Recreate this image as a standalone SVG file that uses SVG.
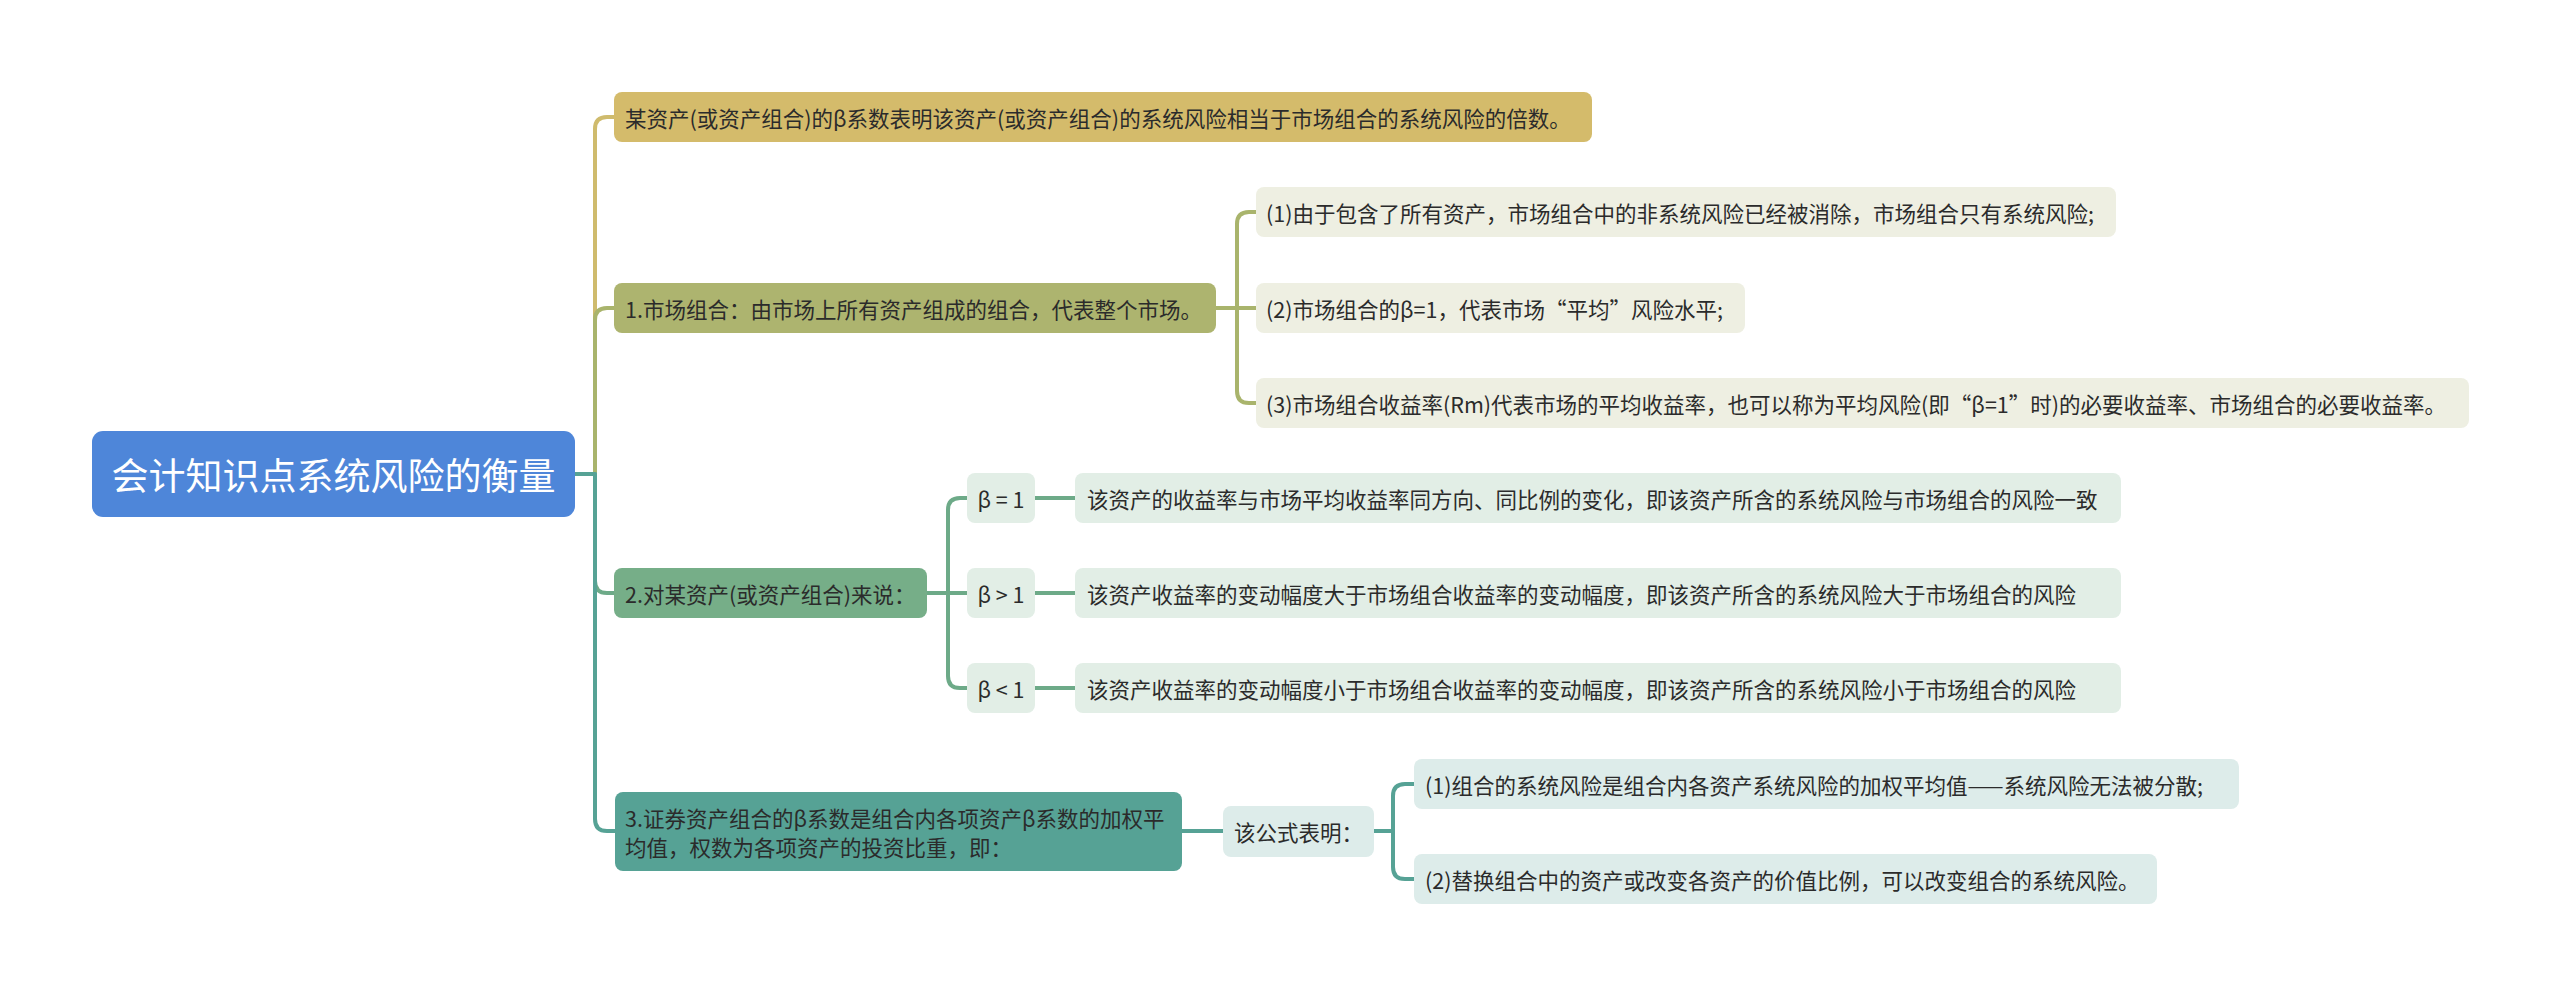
<svg xmlns="http://www.w3.org/2000/svg" width="2560" height="996" viewBox="0 0 2560 996">
<style>
text{font-family:"Noto Sans CJK SC","Liberation Sans",sans-serif;font-size:21.5px;fill:#2b2b2b;dominant-baseline:central}
.c{fill:none;stroke-width:4;stroke-linecap:round;stroke-linejoin:round}
.gold{stroke:#cfbb6d}.olive{stroke:#a9b46c}.green{stroke:#6daa88}.teal{stroke:#56a295}
</style>
<rect width="2560" height="996" fill="#ffffff"/>
<g id="connectors">
<path class="c gold" d="M575,474 H595 V129 Q595,117 607,117 H614"/>
<path class="c olive" d="M575,474 H595 V320 Q595,308 607,308 H614"/>
<path class="c green" d="M575,474 H595 V581 Q595,593 607,593 H614"/>
<path class="c teal" d="M575,474 H595 V819 Q595,831 607,831 H615"/>
<path class="c olive" d="M1216,308 H1237 V224 Q1237,212 1249,212 H1256 M1237,308 H1256 M1237,308 V391 Q1237,403 1249,403 H1256"/>
<path class="c green" d="M927,593 H948 V510 Q948,498 960,498 H967 M948,593 H967 M948,593 V676 Q948,688 960,688 H967"/>
<path class="c green" d="M1035,498 H1075 M1035,593 H1075 M1035,688 H1075"/>
<path class="c teal" d="M1182,831 H1223 M1374,831 H1393 V796 Q1393,784 1405,784 H1414 M1393,831 V867 Q1393,879 1405,879 H1414"/>
</g>
<g id="root">
<rect x="92" y="431" width="483" height="86" rx="11" fill="#4e86d9"/>
<text x="333.5" y="474" text-anchor="middle" style="font-size:37px;fill:#ffffff">会计知识点系统风险的衡量</text>
</g>
<g id="nodeA">
<rect x="614" y="92" width="978" height="50" rx="8" fill="#d4bb6b"/>
<text x="625" y="117">某资产(或资产组合)的β系数表明该资产(或资产组合)的系统风险相当于市场组合的系统风险的倍数。</text>
</g>
<g id="node1">
<rect x="614" y="283" width="602" height="50" rx="8" fill="#adb46f"/>
<text x="625" y="308">1.市场组合：由市场上所有资产组成的组合，代表整个市场。</text>
</g>
<g id="node1-1">
<rect x="1256" y="187" width="860" height="50" rx="8" fill="#eeefe2"/>
<text x="1266" y="212">(1)由于包含了所有资产，市场组合中的非系统风险已经被消除，市场组合只有系统风险;</text>
</g>
<g id="node1-2">
<rect x="1256" y="283" width="489" height="50" rx="8" fill="#eeefe2"/>
<text x="1266" y="308">(2)市场组合的β=1，代表市场“平均”风险水平;</text>
</g>
<g id="node1-3">
<rect x="1256" y="378" width="1213" height="50" rx="8" fill="#eeefe2"/>
<text x="1266" y="403">(3)市场组合收益率(Rm)代表市场的平均收益率，也可以称为平均风险(即“β=1”时)的必要收益率、市场组合的必要收益率。</text>
</g>
<g id="node2">
<rect x="614" y="568" width="313" height="50" rx="8" fill="#76ae88"/>
<text x="625" y="593">2.对某资产(或资产组合)来说：</text>
</g>
<g id="beta-eq">
<rect x="967" y="473" width="68" height="50" rx="8" fill="#e2eee6"/>
<text x="1001" y="498" text-anchor="middle">β = 1</text>
</g>
<g id="beta-gt">
<rect x="967" y="568" width="68" height="50" rx="8" fill="#e2eee6"/>
<text x="1001" y="593" text-anchor="middle">β &gt; 1</text>
</g>
<g id="beta-lt">
<rect x="967" y="663" width="68" height="50" rx="8" fill="#e2eee6"/>
<text x="1001" y="688" text-anchor="middle">β &lt; 1</text>
</g>
<g id="desc-eq">
<rect x="1075" y="473" width="1046" height="50" rx="8" fill="#e2eee6"/>
<text x="1087" y="498">该资产的收益率与市场平均收益率同方向、同比例的变化，即该资产所含的系统风险与市场组合的风险一致</text>
</g>
<g id="desc-gt">
<rect x="1075" y="568" width="1046" height="50" rx="8" fill="#e2eee6"/>
<text x="1087" y="593">该资产收益率的变动幅度大于市场组合收益率的变动幅度，即该资产所含的系统风险大于市场组合的风险</text>
</g>
<g id="desc-lt">
<rect x="1075" y="663" width="1046" height="50" rx="8" fill="#e2eee6"/>
<text x="1087" y="688">该资产收益率的变动幅度小于市场组合收益率的变动幅度，即该资产所含的系统风险小于市场组合的风险</text>
</g>
<g id="node3">
<rect x="615" y="792" width="567" height="79" rx="8" fill="#56a295"/>
<text x="625" y="817">3.证券资产组合的β系数是组合内各项资产β系数的加权平</text>
<text x="625" y="846">均值，权数为各项资产的投资比重，即：</text>
</g>
<g id="formula">
<rect x="1223" y="806" width="151" height="51" rx="8" fill="#ddecea"/>
<text x="1298.5" y="831" text-anchor="middle">该公式表明：</text>
</g>
<g id="formula-1">
<rect x="1414" y="759" width="825" height="50" rx="8" fill="#ddecea"/>
<text x="1425" y="784">(1)组合的系统风险是组合内各资产系统风险的加权平均值——系统风险无法被分散;</text>
</g>
<g id="formula-2">
<rect x="1414" y="854" width="743" height="50" rx="8" fill="#ddecea"/>
<text x="1425" y="879">(2)替换组合中的资产或改变各资产的价值比例，可以改变组合的系统风险。</text>
</g>
</svg>
